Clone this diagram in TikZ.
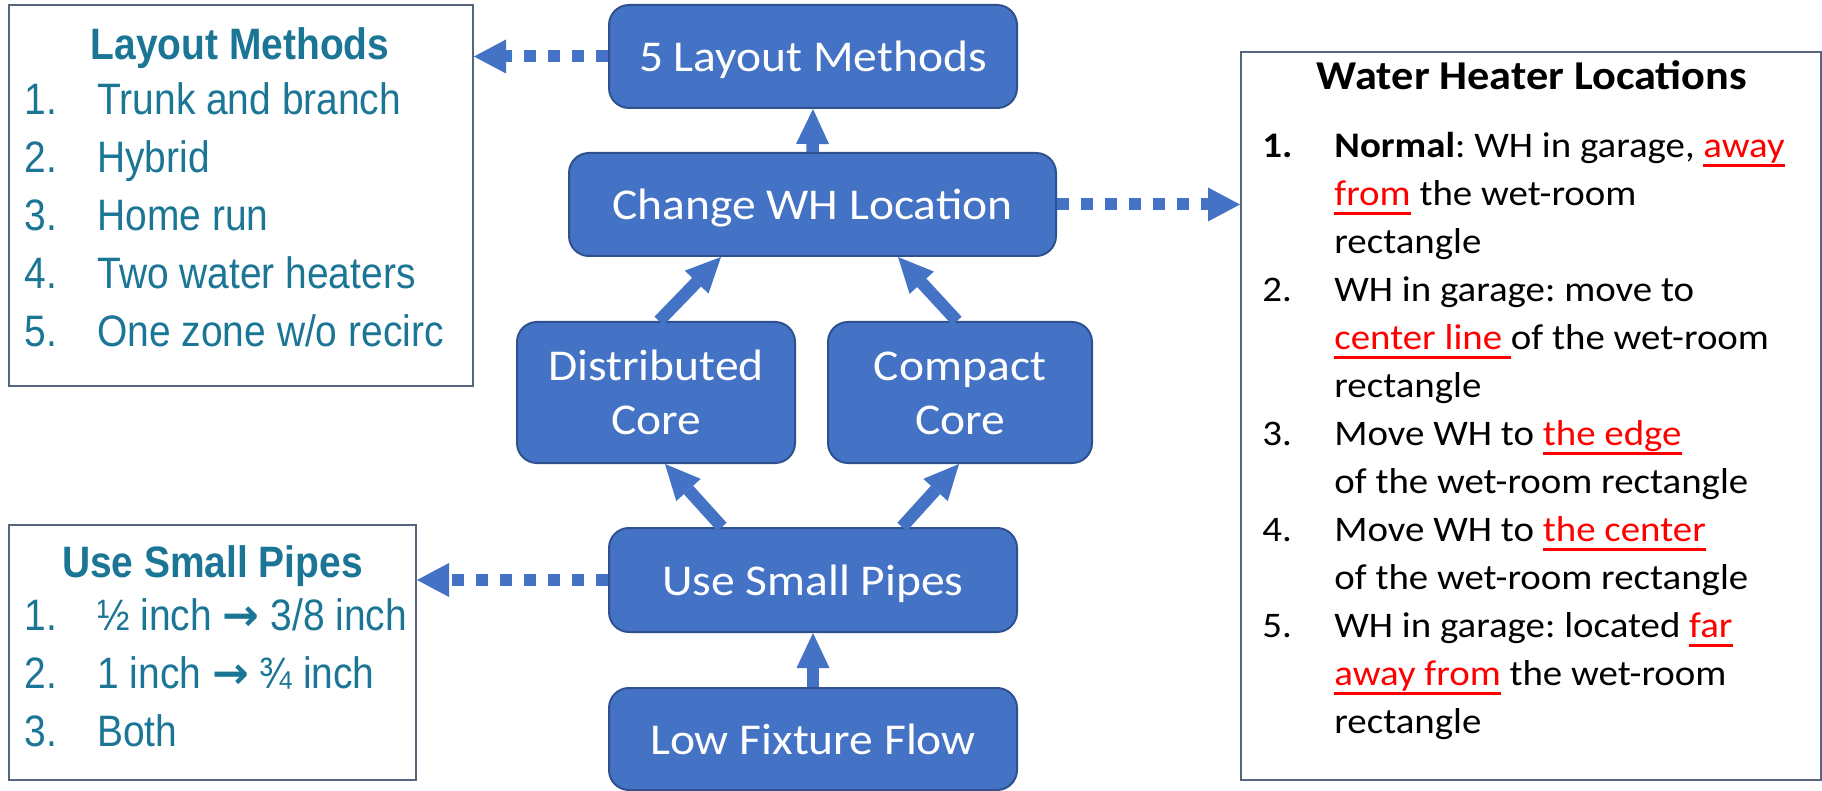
\documentclass[tikz,border=0pt]{standalone}
\usepackage{fontspec}
\setmainfont[FakeStretch=1.08]{Carlito}
\newfontfamily\narrowsf[FakeStretch=0.885]{Liberation Sans}
\newfontfamily\arrowfont{DejaVu Sans}
\usetikzlibrary{arrows.meta}
\definecolor{nodeblue}{HTML}{4472C4}
\definecolor{nodeedge}{HTML}{2F528F}
\definecolor{boxedge}{HTML}{56657C}
\definecolor{listteal}{HTML}{1B7595}
\definecolor{markred}{HTML}{FF0000}
\newsavebox{\ulbox}
\newcommand{\redul}[1]{\textcolor{markred}{\sbox{\ulbox}{#1}%
  \rlap{\rule[-4.6pt]{\wd\ulbox}{1.5pt}}\usebox{\ulbox}}}
\newcommand{\nodestrut}{\rule[-5pt]{0pt}{25pt}}
\newcommand{\sizeto}{{\arrowfont\bfseries →}}
\frenchspacing
\begin{document}
\begin{tikzpicture}[x=0.5pt,y=-0.5pt,
  stage/.style={rounded corners=10pt,fill=nodeblue,draw=nodeedge,line width=1pt,
    text=white,align=center,inner sep=0pt,font=\fontsize{22}{27.5}\selectfont},
  listbox/.style={draw=boxedge,line width=1pt,inner sep=0pt},
  flow/.style={draw=nodeblue,line width=6.25pt,
    -{Triangle[length=17.5pt,width=16.5pt,line width=0pt]}},
  pointer/.style={draw=nodeblue,line width=6pt,dash pattern=on 6pt off 6pt,
    -{Triangle[length=16pt,width=17pt,line width=0pt]}},
  tealtext/.style={text=listteal,inner sep=0pt,font=\narrowsf\fontsize{22}{29}\selectfont}]
\useasboundingbox (0,0) rectangle (1822,791);
\node[stage,minimum width=204pt,minimum height=51.5pt] (layout) at (813,56.5) {\nodestrut 5 Layout Methods};
\node[stage,minimum width=243.5pt,minimum height=51.5pt] (change) at (812.5,204.5) {\nodestrut Change WH Location};
\node[stage,minimum width=139pt,minimum height=70.5pt] (dist) at (656,392.5) {\nodestrut Distributed\\\nodestrut Core};
\node[stage,minimum width=132pt,minimum height=70.5pt] (comp) at (960,392.5) {\nodestrut Compact\\\nodestrut Core};
\node[stage,minimum width=204pt,minimum height=52pt] (pipes) at (813,580) {\nodestrut Use Small Pipes};
\node[stage,minimum width=204pt,minimum height=51pt] (lowflow) at (813,739) {\nodestrut Low Fixture Flow};

\node[listbox,minimum width=232pt,minimum height=190.5pt] (lmbox) at (241,195.5) {};
\node[tealtext,anchor=base] (lmtitle) at (240,60) {\bfseries Layout Methods};
\node[tealtext,anchor=base west] (lmlist) at (24,115) {%
  \begin{tabular}[t]{@{}p{36.5pt}@{}l@{}}
  1. & Trunk and branch\\
  2. & Hybrid\\
  3. & Home run\\
  4. & Two water heaters\\
  5. & One zone w/o recirc
  \end{tabular}};

\node[listbox,minimum width=203.5pt,minimum height=127.5pt] (spbox) at (212.5,652.5) {};
\node[tealtext,anchor=base] (sptitle) at (212.5,577) {\bfseries Use Small Pipes};
\node[tealtext,anchor=base west] (splist) at (24,630) {%
  \begin{tabular}[t]{@{}p{36.5pt}@{}l@{}}
  1. & ½ inch \sizeto{} 3/8 inch\\
  2. & 1 inch \sizeto{} ¾ inch\\
  3. & Both
  \end{tabular}};

\node[listbox,minimum width=290pt,minimum height=364pt] (whbox) at (1531,416) {};
\node[anchor=base,inner sep=0pt,font=\fontsize{20.5}{24}\selectfont\bfseries] (whtitle) at (1532,90) {Water Heater Locations};
\node[anchor=base west,inner sep=0pt,font=\fontsize{18}{24}\selectfont] (whlist) at (1262,158) {%
  \begin{tabular}[t]{@{}p{36pt}@{}l@{}}
  \textbf{1.} & \textbf{Normal}: WH in garage, \redul{away}\\
  & \redul{from} the wet-room\\
  & rectangle\\
  2. & WH in garage: move to\\
  & \redul{center line\ }of the wet-room\\
  & rectangle\\
  3. & Move WH to \redul{the edge}\\
  & of the wet-room rectangle\\
  4. & Move WH to \redul{the center}\\
  & of the wet-room rectangle\\
  5. & WH in garage: located \redul{far}\\
  & \redul{away from} the wet-room\\
  & rectangle
  \end{tabular}};

\draw[flow] (change.north) -- (layout.south);
\draw[flow] ([xshift=1.5pt]dist.north) -- ([xshift=-45.75pt]change.south);
\draw[flow] ([xshift=-1.5pt]comp.north) -- ([xshift=42.75pt]change.south);
\draw[flow] ([xshift=-45.5pt]pipes.north) -- ([xshift=4.5pt]dist.south);
\draw[flow] ([xshift=44.5pt]pipes.north) -- ([xshift=-0.5pt]comp.south);
\draw[flow] (lowflow.north) -- (pipes.south);

\draw[pointer] (layout.west) -- (layout.west -| lmbox.east);
\draw[pointer] (change.east) -- (change.east -| whbox.west);
\draw[pointer] (pipes.west) -- (pipes.west -| spbox.east);
\end{tikzpicture}
\end{document}
